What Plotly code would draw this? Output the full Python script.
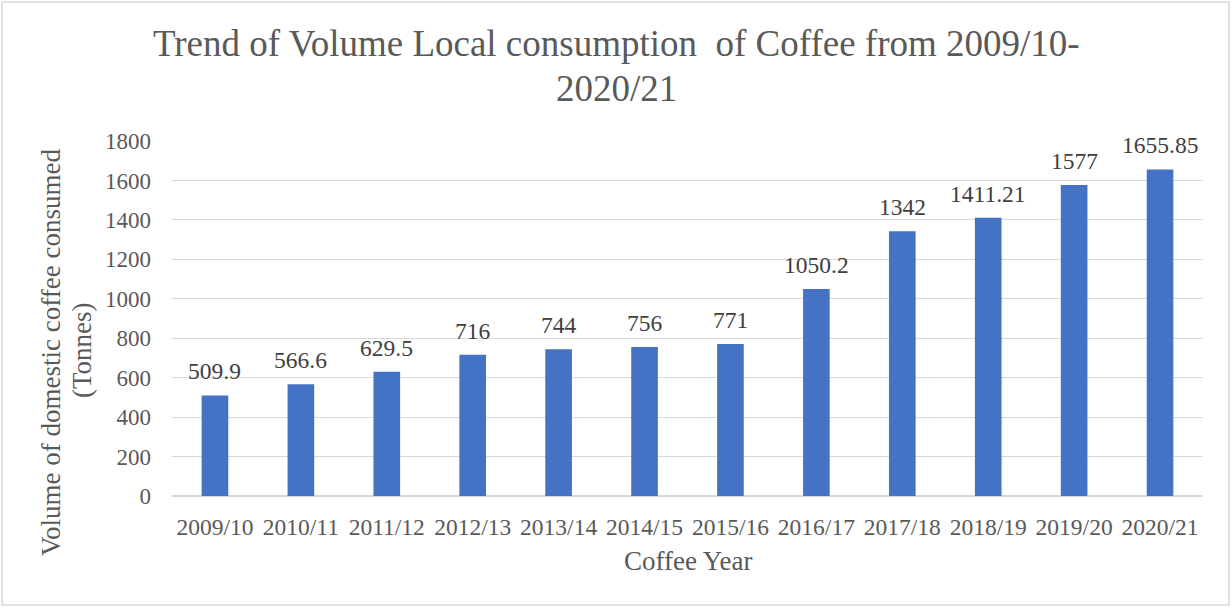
import plotly.graph_objects as go

years = ["2009/10", "2010/11", "2011/12", "2012/13", "2013/14", "2014/15",
         "2015/16", "2016/17", "2017/18", "2018/19", "2019/20", "2020/21"]
volumes = [509.9, 566.6, 629.5, 716, 744, 756, 771, 1050.2, 1342, 1411.21, 1577, 1655.85]
labels = ["509.9", "566.6", "629.5", "716", "744", "756", "771", "1050.2",
          "1342", "1411.21", "1577", "1655.85"]
y_ticks = [0, 200, 400, 600, 800, 1000, 1200, 1400, 1600, 1800]
title_lines = ["Trend of Volume Local consumption  of Coffee from 2009/10-", "2020/21"]
y_title_lines = ["Volume of domestic coffee consumed", "(Tonnes)"]
x_title = "Coffee Year"

W, H = 1232, 607
L, R, T, B = 172, 29, 141, 111
pw, ph = W - L - R, H - T - B
FONT = "Liberation Serif, Times New Roman, serif"
TXT = "#595959"


def px(x):
    return (x - L) / pw


def py(y):
    return (H - B - y) / ph


fig = go.Figure(go.Bar(
    x=years, y=volumes,
    marker=dict(color="#4472c4", line=dict(width=0)),
    hoverinfo="x+y",
))

annotations = []
for yr, v, lab in zip(years, volumes, labels):
    annotations.append(dict(
        x=yr, y=v, xref="x", yref="y", text=lab, showarrow=False,
        xanchor="center", yanchor="bottom", yshift=9,
        font=dict(family=FONT, size=23.5, color="#404040"),
    ))

# chart title (two lines)
annotations.append(dict(text=title_lines[0], xref="paper", yref="paper",
                        x=px(616), y=py(44), xanchor="center", yanchor="middle",
                        showarrow=False, font=dict(family=FONT, size=37, color=TXT)))
annotations.append(dict(text=title_lines[1], xref="paper", yref="paper",
                        x=px(616), y=py(88), xanchor="center", yanchor="middle",
                        showarrow=False, font=dict(family=FONT, size=37, color=TXT)))
# y axis title (two rotated lines)
annotations.append(dict(text=y_title_lines[0], textangle=-90, xref="paper", yref="paper",
                        x=px(51), y=py(353), xanchor="center", yanchor="middle",
                        showarrow=False, font=dict(family=FONT, size=27, color=TXT)))
annotations.append(dict(text=y_title_lines[1], textangle=-90, xref="paper", yref="paper",
                        x=px(82), y=py(350), xanchor="center", yanchor="middle",
                        showarrow=False, font=dict(family=FONT, size=27, color=TXT)))
# x axis title
annotations.append(dict(text=x_title, xref="paper", yref="paper",
                        x=px(688), y=py(561), xanchor="center", yanchor="middle",
                        showarrow=False, font=dict(family=FONT, size=27, color=TXT)))

fig.update_layout(
    width=W, height=H,
    margin=dict(l=L, r=R, t=T, b=B, autoexpand=False),
    paper_bgcolor="white", plot_bgcolor="white",
    bargap=0.69,
    showlegend=False,
    font=dict(family=FONT, color=TXT),
    xaxis=dict(
        type="category", showgrid=False, showline=True, linecolor="#d9d9d9", linewidth=1,
        ticks="", tickfont=dict(family=FONT, size=23.5, color=TXT), ticklabelstandoff=10,
    ),
    yaxis=dict(
        range=[0, 1800], tickvals=y_ticks, showgrid=True, gridcolor="#d9d9d9", gridwidth=1,
        zeroline=True, zerolinecolor="#d9d9d9", showline=False, ticks="",
        tickfont=dict(family=FONT, size=23, color=TXT), ticklabelstandoff=20,
    ),
    annotations=annotations,
    shapes=[dict(type="rect", xref="paper", yref="paper",
                 x0=px(2), x1=px(1229), y0=py(605), y1=py(2),
                 line=dict(color="#d9d9d9", width=1.5), layer="below")],
)

fig.write_html("out.html", config={"displayModeBar": False},
               post_script="document.body.style.margin='0';document.body.style.overflow='hidden';")
